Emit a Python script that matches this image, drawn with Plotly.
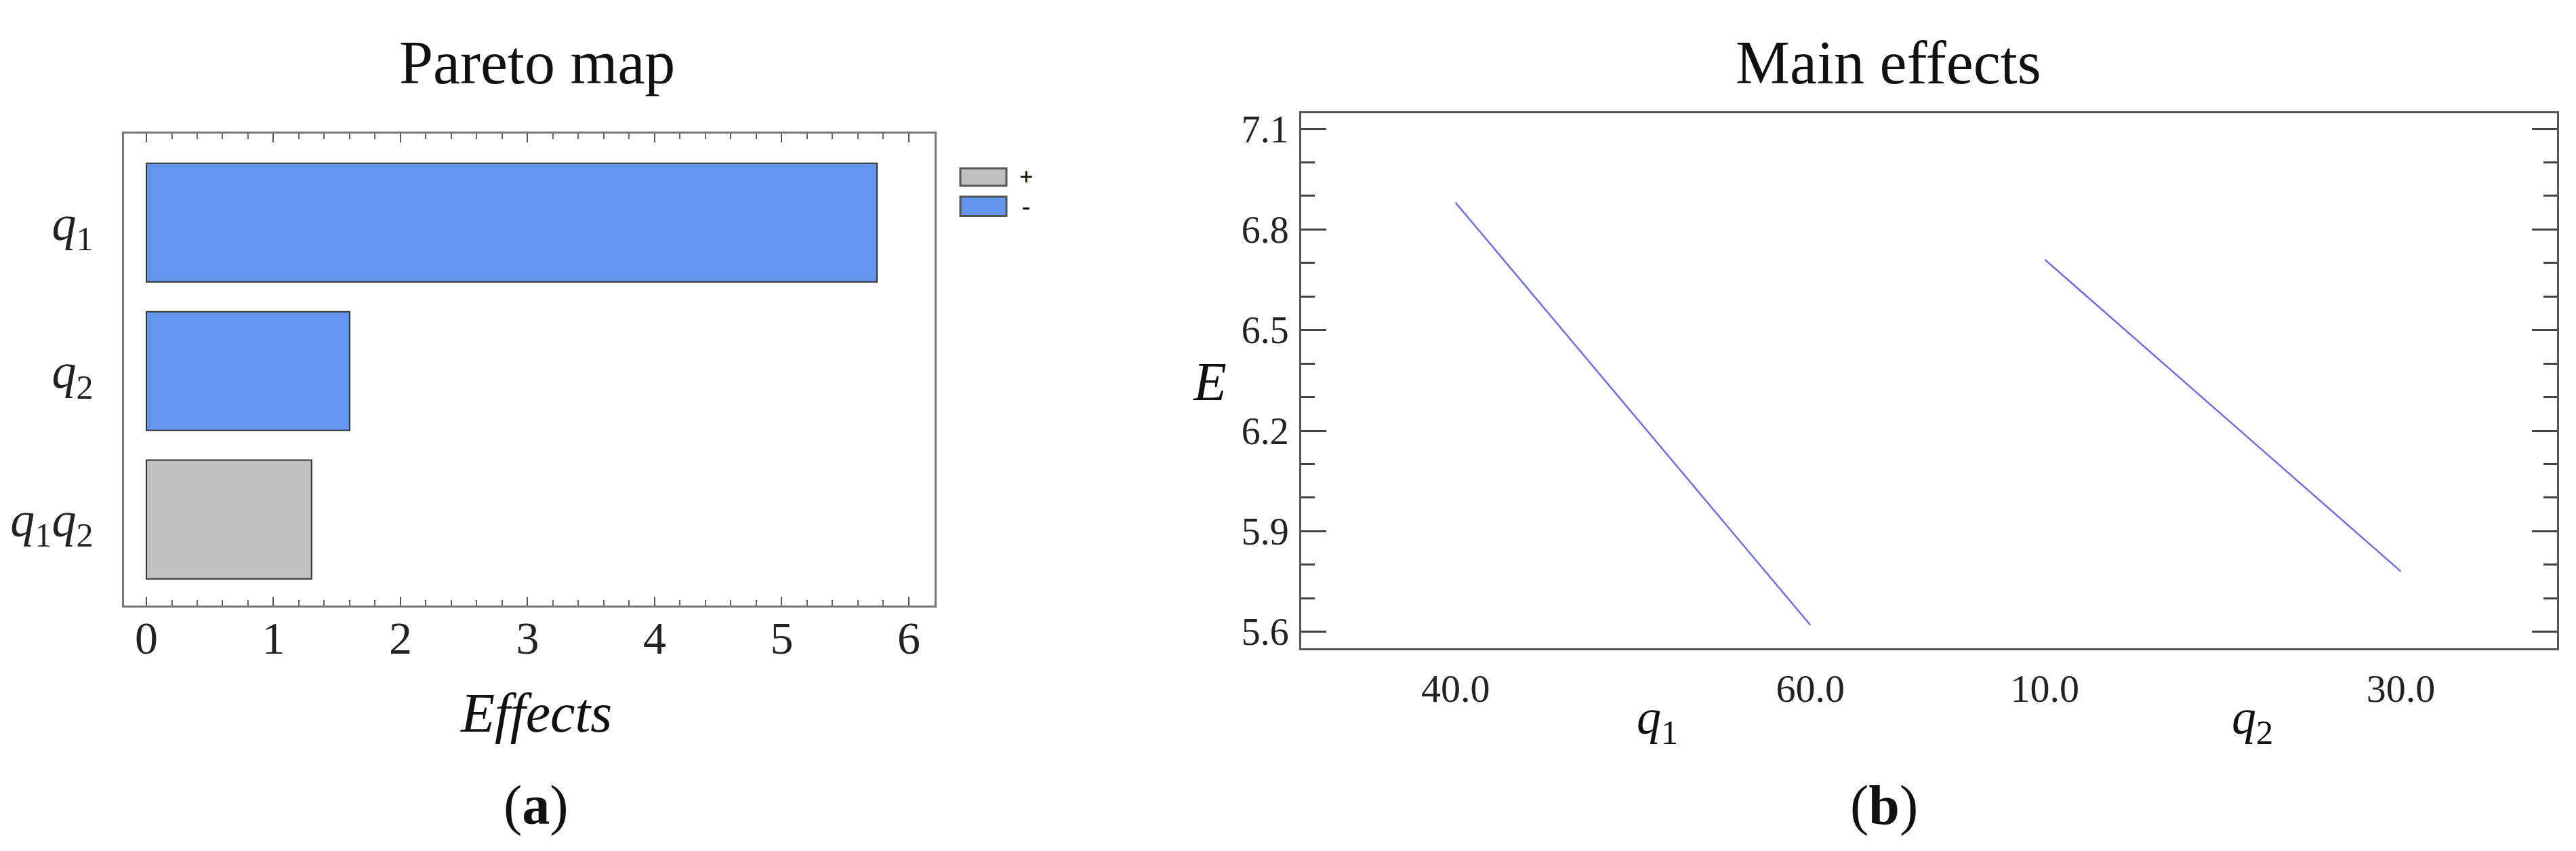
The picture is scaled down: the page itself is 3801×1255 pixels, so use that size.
import plotly.graph_objects as go

# ---------------- data ----------------
# Pareto map (panel a)
factors = ["q1", "q2", "q1q2"]
factor_labels = ["<i>q</i><sub>1</sub>", "<i>q</i><sub>2</sub>",
                 "<i>q</i><sub>1</sub><i>q</i><sub>2</sub>"]
effects = [5.75, 1.60, 1.30]
signs = ["-", "-", "+"]
effect_ticks = [0, 1, 2, 3, 4, 5, 6]
legend_signs = ["+", "-"]

# Main effects (panel b)
q1_levels = [40.0, 60.0]
q1_E = [6.88, 5.62]
q2_levels = [10.0, 30.0]
q2_E = [6.71, 5.78]
E_ticks = [5.6, 5.9, 6.2, 6.5, 6.8, 7.1]

# ---------------- style ----------------
W, H = 3801, 1255
FONT = "Liberation Serif, Times New Roman, serif"
sign_colors = {"+": "#c0c0c0", "-": "#6495ed"}
LINE_COLOR = "#6e6ee0"


def px(x):
    return x / W


def py(y):
    return 1 - y / H


fig = go.Figure()

fig.add_trace(go.Bar(
    x=effects, y=factors, orientation="h", width=0.8,
    marker=dict(color=[sign_colors[s] for s in signs],
                line=dict(color="#333333", width=2)),
    xaxis="x", yaxis="y", showlegend=False, hoverinfo="x+y"))

fig.add_trace(go.Scatter(
    x=q1_levels, y=q1_E, mode="lines",
    line=dict(color=LINE_COLOR, width=2.5),
    xaxis="x2", yaxis="y2", showlegend=False))

fig.add_trace(go.Scatter(
    x=q2_levels, y=q2_E, mode="lines",
    line=dict(color=LINE_COLOR, width=2.5),
    xaxis="x3", yaxis="y3", showlegend=False))

frame_a = "#777777"
frame_b = "#555555"

layout = dict(
    width=W, height=H,
    margin=dict(l=0, r=0, t=0, b=0),
    paper_bgcolor="white", plot_bgcolor="white",
    font=dict(family=FONT, color="#222222"),
    showlegend=False,
    xaxis=dict(
        domain=[px(175), px(1371)], anchor="y",
        range=[-0.176, 6.203], tickvals=effect_ticks,
        ticks="inside", ticklen=13, tickwidth=2, tickcolor="#555555",
        minor=dict(dtick=0.2, tick0=0, ticks="inside", ticklen=8,
                   tickwidth=1.5, tickcolor="#666666", showgrid=False),
        showline=True, linecolor=frame_a, linewidth=3, mirror="ticks",
        showgrid=False, zeroline=False,
        tickfont=dict(family=FONT, size=68, color="#222222"),
        ticklabelstandoff=-14,
    ),
    yaxis=dict(
        domain=[py(888), py(184)], anchor="x",
        type="category", categoryorder="array", categoryarray=factors,
        range=[2.58, -0.6],
        tickvals=factors, ticktext=factor_labels,
        ticks="", showline=True, linecolor=frame_a, linewidth=3, mirror=True,
        showgrid=False, zeroline=False,
        tickfont=dict(family=FONT, size=72, color="#222222"),
        ticklabelstandoff=28,
    ),
    xaxis2=dict(
        domain=[px(1912), px(2836)], anchor="y2",
        range=[31.3, 66.6], tickvals=q1_levels, tickformat=".1f",
        ticks="", showline=True, linecolor=frame_b, linewidth=3, mirror=True,
        showgrid=False, zeroline=False,
        tickfont=dict(family=FONT, size=58, color="#222222"),
        ticklabelstandoff=6,
    ),
    xaxis3=dict(
        domain=[px(2836), px(3765)], anchor="y3",
        range=[3.40, 38.78], tickvals=q2_levels, tickformat=".1f",
        ticks="", showline=True, linecolor=frame_b, linewidth=3, mirror=True,
        showgrid=False, zeroline=False,
        tickfont=dict(family=FONT, size=58, color="#222222"),
        ticklabelstandoff=6,
    ),
    yaxis2=dict(
        domain=[py(952), py(154)], anchor="x2", side="left",
        range=[5.55, 7.146], tickvals=E_ticks, tickformat=".1f",
        ticks="inside", ticklen=37, tickwidth=3, tickcolor="#444444",
        minor=dict(dtick=0.1, tick0=5.6, ticks="inside", ticklen=20,
                   tickwidth=3, tickcolor="#444444", showgrid=False),
        showline=True, linecolor=frame_b, linewidth=3, mirror=False,
        showgrid=False, zeroline=False,
        tickfont=dict(family=FONT, size=56, color="#222222"),
        ticklabelstandoff=4,
    ),
    yaxis3=dict(
        domain=[py(952), py(154)], anchor="x3", side="right",
        range=[5.55, 7.146], tickvals=E_ticks, showticklabels=False,
        ticks="inside", ticklen=37, tickwidth=3, tickcolor="#444444",
        minor=dict(dtick=0.1, tick0=5.6, ticks="inside", ticklen=20,
                   tickwidth=3, tickcolor="#444444", showgrid=False),
        showline=True, linecolor=frame_b, linewidth=3, mirror=False,
        showgrid=False, zeroline=False,
    ),
)
fig.update_layout(**layout)


def ann(text, x, y, size, italic=False, xanchor="center", yanchor="middle", color="#111111"):
    if italic:
        text = "<i>" + text + "</i>"
    fig.add_annotation(text=text, x=x, y=y, xref="paper", yref="paper",
                       xanchor=xanchor, yanchor=yanchor, showarrow=False,
                       font=dict(family=FONT, size=size, color=color))


# titles
ann("Pareto map", px(784), py(78), 90)
ann("Main effects", px(2778), py(78), 90)
# axis titles
ann("Effects", px(783), py(1048), 82, italic=True)
ann("E", px(1777), py(554), 80, italic=True)
ann("<i>q</i><sub>1</sub>", px(2437), py(1060), 72)
ann("<i>q</i><sub>2</sub>", px(3315), py(1060), 72)
# panel labels
ann("(<b>a</b>)", px(783), py(1186), 82)
ann("(<b>b</b>)", px(2772), py(1186), 82)

# legend (manual, large swatches)
legend_rows = [(236, 262), (278, 307)]
for s, (y0, y1) in zip(legend_signs, legend_rows):
    fig.add_shape(type="rect", xref="paper", yref="paper",
                  x0=px(1409), x1=px(1477), y0=py(y1), y1=py(y0),
                  fillcolor=sign_colors[s], line=dict(color="#555555", width=3))
    ann("<b>" + s + "</b>", px(1506), py((y0 + y1) / 2), 36, color="#000000")

fig.write_html("out.html")
